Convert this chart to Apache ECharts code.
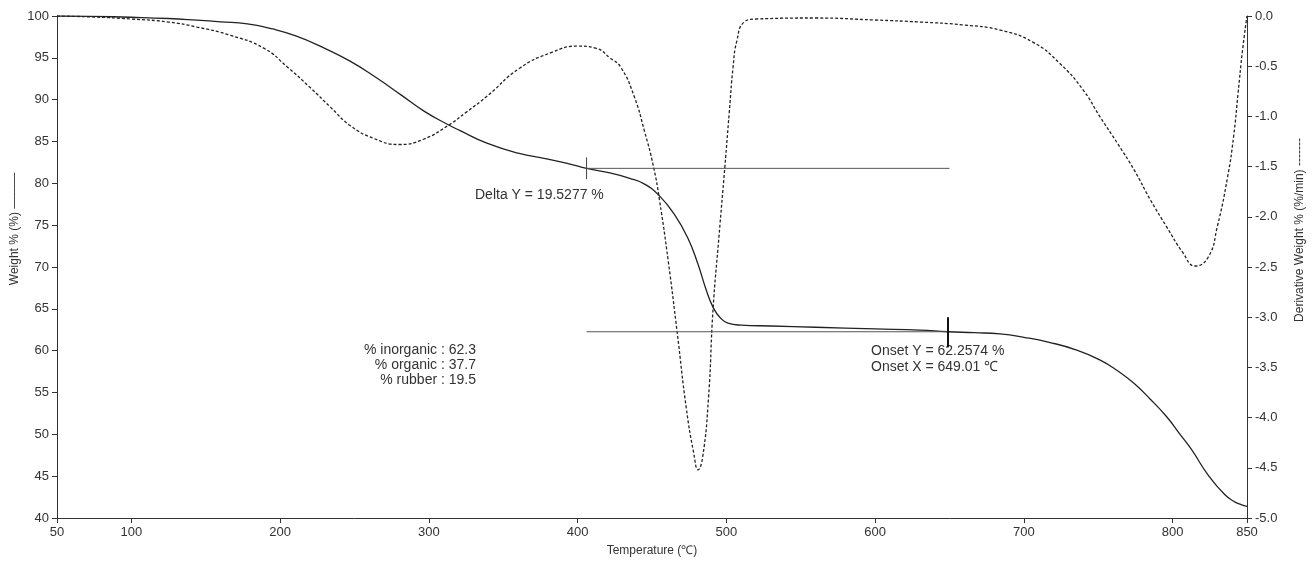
<!DOCTYPE html>
<html>
<head>
<meta charset="utf-8">
<script src="https://cdn.jsdelivr.net/npm/echarts@6/dist/echarts.min.js"></script>
<style>html,body{margin:0;padding:0;background:#fff;}#c{width:1315px;height:562px;}</style>
</head>
<body>
<div id="c"></div>
<script>
// Weight % (solid) curve
const weightTemp = [50,75,100,125,144,160,178,195,211,228,247,264,281,297,313,321,339,360,380,395,406,420,435,445,455,465,474,481,486,491,496,501,510,530,560,600,630,649,667,684,700,717,735,751,763,774,785,796,805,813,824,835,842,846,850];
const weightVal  = [100,99.95,99.85,99.7,99.5,99.3,99.05,98.45,97.6,96.3,94.6,92.7,90.6,88.6,87.0,86.3,84.8,83.6,82.9,82.3,81.8,81.3,80.6,79.9,78.5,76.3,73.5,70.3,67.5,65.2,63.9,63.3,63.05,62.95,62.8,62.6,62.45,62.26,62.15,62.0,61.6,61.0,60.1,58.9,57.6,56.1,54.2,52.1,50.0,48.1,45.1,42.8,41.9,41.6,41.4];
// Derivative weight (dashed) curve
const derivTemp = [50,75,100,125,144,166,189,205,220,234,247,263,280,296,313,325,339,361,383,400,412,422,429,438,445,451,455,461,467,473,478,481,484,488,491,495,499,502,504.5,507,512,520,560,600,630,660,684,706,724,740,751,763,774,785,796,807,815,824,830,837,841,844,847,850];
const derivVal  = [0.0,-0.01,-0.03,-0.06,-0.11,-0.19,-0.32,-0.51,-0.71,-0.91,-1.09,-1.22,-1.28,-1.23,-1.09,-0.96,-0.80,-0.52,-0.36,-0.30,-0.32,-0.42,-0.51,-0.80,-1.15,-1.50,-1.83,-2.45,-3.16,-3.90,-4.35,-4.52,-4.40,-3.80,-2.93,-2.20,-1.50,-0.95,-0.51,-0.25,-0.06,-0.03,-0.02,-0.04,-0.06,-0.09,-0.14,-0.26,-0.47,-0.74,-1.00,-1.27,-1.53,-1.83,-2.10,-2.36,-2.49,-2.40,-2.10,-1.60,-1.20,-0.77,-0.34,0.0];
// Annotation geometry in data units
const deltaLine = [[406,81.79],[650,81.79]];
const deltaTick = [[406,80.5],[406,83.1]];
const onsetLine = [[406,62.26],[649,62.26]];
const onsetTick = [[649,60.4],[649,64.0]];
// Axis tick labels
const xTicks = [50,100,200,300,400,500,600,700,800,850];

const zip = (a,b) => a.map((v,i)=>[v,b[i]]);
const txt = '#333';
const font = 'Liberation Sans, Arial, sans-serif';
const chart = echarts.init(document.getElementById('c'));
chart.setOption({
  animation:false,
  backgroundColor:'#fff',
  grid:{left:57,right:68,top:16,bottom:44},
  xAxis:{type:'value',min:50,max:850,interval:50,
    name:'Temperature (℃)',nameLocation:'middle',nameGap:27,
    nameTextStyle:{color:txt,fontSize:12,fontFamily:font},
    axisLine:{onZero:false,lineStyle:{color:'#333',width:1}},
    axisTick:{show:true,customValues:xTicks,length:5,lineStyle:{color:'#333'}},
    axisLabel:{customValues:xTicks,color:txt,fontSize:13,fontFamily:font,margin:8},
    splitLine:{show:false}},
  yAxis:[
    {type:'value',min:40,max:100,interval:5,position:'left',
     axisLine:{show:true,onZero:false,lineStyle:{color:'#333'}},
     axisTick:{show:true,length:5,lineStyle:{color:'#333'}},
     axisLabel:{color:txt,fontSize:13,fontFamily:font,margin:8},
     splitLine:{show:false}},
    {type:'value',min:-5,max:0,interval:0.5,position:'right',
     axisLine:{show:true,onZero:false,lineStyle:{color:'#333'}},
     axisTick:{show:true,length:5,lineStyle:{color:'#333'}},
     axisLabel:{color:txt,fontSize:13,fontFamily:font,margin:8,formatter:v=>v.toFixed(1)},
     splitLine:{show:false}}
  ],
  series:[
    {type:'line',yAxisIndex:1,data:zip(derivTemp,derivVal),smooth:0.5,symbol:'none',
     lineStyle:{color:'#222',width:1.3,type:[3,2]}},
    {type:'line',yAxisIndex:0,data:zip(weightTemp,weightVal),smooth:0.5,symbol:'none',
     lineStyle:{color:'#222',width:1.3}},
    {type:'line',yAxisIndex:0,data:deltaLine,symbol:'none',lineStyle:{color:'#555',width:1}},
    {type:'line',yAxisIndex:0,data:deltaTick,symbol:'none',lineStyle:{color:'#444',width:1}},
    {type:'line',yAxisIndex:0,data:onsetLine,symbol:'none',lineStyle:{color:'#555',width:1}},
    {type:'line',yAxisIndex:0,data:onsetTick,symbol:'none',lineStyle:{color:'#111',width:2}}
  ],
  graphic:[
    {type:'text',x:15,y:229,rotation:Math.PI/2,style:{text:'Weight % (%) ———',fill:txt,font:'12px '+font,textAlign:'center',textVerticalAlign:'middle'}},
    {type:'text',x:1300,y:230,rotation:Math.PI/2,style:{text:'Derivative Weight % (%/min) -------',fill:txt,font:'12px '+font,textAlign:'center',textVerticalAlign:'middle'}},
    {type:'text',x:475,y:195,style:{text:'Delta Y = 19.5277 %',fill:txt,font:'14px '+font,textAlign:'left',textVerticalAlign:'middle'}},
    {type:'text',x:871,y:351,style:{text:'Onset Y = 62.2574 %',fill:txt,font:'14px '+font,textAlign:'left',textVerticalAlign:'middle'}},
    {type:'text',x:871,y:367,style:{text:'Onset X = 649.01 ℃',fill:txt,font:'14px '+font,textAlign:'left',textVerticalAlign:'middle'}},
    {type:'text',x:476,y:350,style:{text:'% inorganic : 62.3',fill:txt,font:'14px '+font,textAlign:'right',textVerticalAlign:'middle'}},
    {type:'text',x:476,y:365,style:{text:'% organic : 37.7',fill:txt,font:'14px '+font,textAlign:'right',textVerticalAlign:'middle'}},
    {type:'text',x:476,y:380,style:{text:'% rubber : 19.5',fill:txt,font:'14px '+font,textAlign:'right',textVerticalAlign:'middle'}}
  ]
});
</script>
</body>
</html>
